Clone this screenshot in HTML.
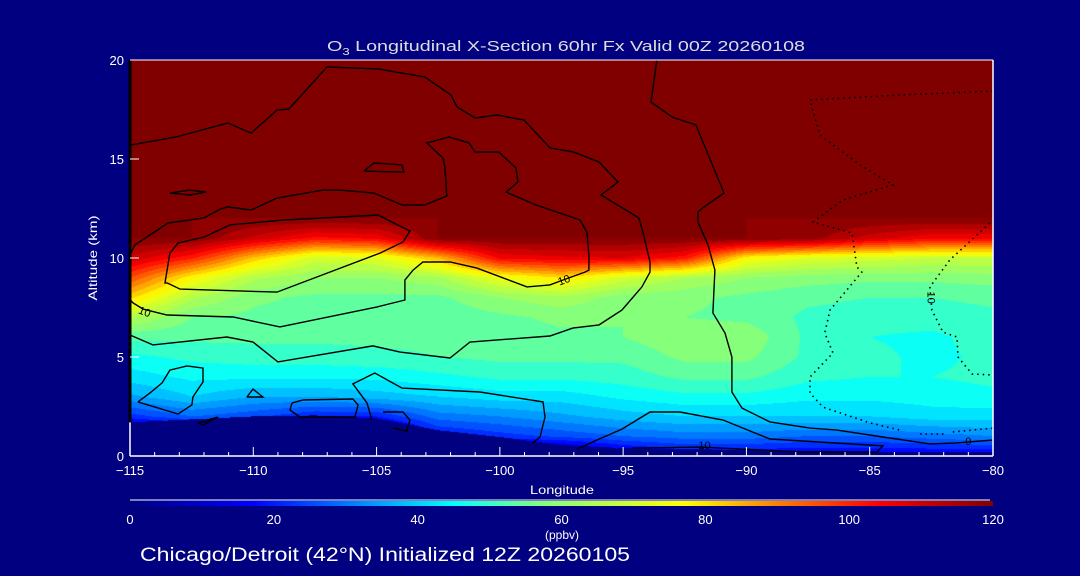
<!DOCTYPE html>
<html><head><meta charset="utf-8"><style>
html,body{margin:0;padding:0;background:#000080;}
#wrap{position:relative;width:1080px;height:576px;overflow:hidden;background:#000080;font-family:"Liberation Sans",sans-serif;color:#fff;}
#heat{position:absolute;left:130px;top:60px;}
#ov{position:absolute;left:0;top:0;}
</style></head><body>
<div id="wrap">
<canvas id="heat" width="863" height="396"></canvas>
<svg id="ov" width="1080" height="576">
<defs><linearGradient id="cbg" x1="0" x2="1" y1="0" y2="0"></linearGradient></defs>
<g id="contours"></g>
<g id="axes"></g>
<text x="327" y="51" textLength="478" lengthAdjust="spacingAndGlyphs" font-size="15" fill="#ddd">O<tspan font-size="10" dy="4">3</tspan><tspan dy="-4"> Longitudinal X-Section 60hr  Fx Valid 00Z 20260108</tspan></text>
<text x="97" y="258" text-anchor="middle" font-size="12" textLength="85" lengthAdjust="spacingAndGlyphs" fill="#fff" transform="rotate(-90 97 258)">Altitude (km)</text>
<text x="562" y="494" text-anchor="middle" font-size="12" textLength="64" lengthAdjust="spacingAndGlyphs" fill="#fff">Longitude</text>
<g id="cbar"></g>
<text x="562" y="539" text-anchor="middle" font-size="12" fill="#fff">(ppbv)</text>
<text x="140" y="561" font-size="19" textLength="490" lengthAdjust="spacingAndGlyphs" fill="#fff">Chicago/Detroit (42°N) Initialized 12Z 20260105</text>
</svg>
</div>
<script>
// ---- data ----
const lons = [-115,-112.5,-110,-107.5,-105,-102.5,-100,-97.5,-95,-92.5,-90,-87.5,-85,-82.5,-80];
const alts = [0,1,2,3,4,5,6,7,8,9,10,11,12,13,14,15,16,17,18,19,20];
const o3col0  = [0,0,22,35,42,47,53,65,81,96,111,120,120,120,120,120,120,120,120,120,120];
const o3col1  = [0,0,28,40,45,49,53,56,65,77,101,120,120,120,120,120,120,120,120,120,120];
const o3col2  = [0,0,25,36,45,50,53,55,57,65,83,111,120,120,120,120,120,120,120,120,120];
const o3col3  = [0,0,20,36,45,50,53,54,55,60,70,103,120,120,120,120,120,120,120,120,120];
const o3col4  = [0,0,20,38,45,51,53,53,55,60,72,105,120,120,120,120,120,120,120,120,120];
const o3col5  = [0,18,30,40,47,52,53,53,55,63,84,120,120,120,120,120,120,120,120,120,120];
const o3col6  = [0,22,32,42,49,53,54,55,60,74,105,120,120,120,120,120,120,120,120,120,120];
const o3col7  = [0,25,35,42,49,53,55,57,63,80,107,120,120,120,120,120,120,120,120,120,120];
const o3col8  = [10,28,38,45,50,53,56,56,58,70,108,120,120,120,120,120,120,120,120,120,120];
const o3col9  = [15,30,40,47,53,57,59,56,57,64,102,120,120,120,120,120,120,120,120,120,120];
const o3col10 = [15,30,40,47,53,57,59,55,55,60,77,120,120,120,120,120,120,120,120,120,120];
const o3col11 = [14,28,40,45,49,51,51,51,53,58,72,118,120,120,120,120,120,120,120,120,120];
const o3col12 = [14,28,40,45,48,49,48,50,52,57,70,110,120,120,120,120,120,120,120,120,120];
const o3col13 = [14,30,42,46,48,47,47,50,52,57,68,105,120,120,120,120,120,120,120,120,120];
const o3col14 = [14,32,42,47,49,49,50,51,53,58,68,105,120,120,120,120,120,120,120,120,120];
const o3 = [o3col0,o3col1,o3col2,o3col3,o3col4,o3col5,o3col6,o3col7,o3col8,o3col9,o3col10,o3col11,o3col12,o3col13,o3col14];
const terrain = [1.7,1.85,2.0,2.05,1.9,1.3,0.96,0.55,0.4,0.35,0.3,0.25,0.2,0.2,0.2];
const xTicks = [-115,-110,-105,-100,-95,-90,-85,-80];
const xTickLabels = ["\u2212115","\u2212110","\u2212105","\u2212100","\u221295","\u221290","\u221285","\u221280"];
const yTicks = [0,5,10,15,20];
const cbTicks = [0,20,40,60,80,100,120];
const cmapVals = [0,17,31,45,57,77,90,104,120];
const cmapCols = ["#000080","#0000ff","#0080ff","#00ffff","#80ff80","#ffff00","#ff8000","#ff0000","#800000"];
// contours (lon, alt)
const cU1 = [[-114.96,15.71],[-113.13,16.11],[-111.03,16.82],[-110.09,16.31],[-109.04,17.47],[-108.55,17.53],[-107.01,19.65],[-104.94,19.55],[-103.04,19.14],[-101.98,18.23],[-101.74,17.63],[-101.01,17.07],[-100.12,17.22],[-99.02,16.97],[-97.97,15.56],[-97.0,15.35],[-95.98,14.85],[-95.21,13.84],[-95.9,13.18],[-94.36,12.02],[-94.2,11.31],[-93.91,9.8],[-93.91,9.29],[-94.24,8.54],[-95.05,7.37],[-95.98,6.62],[-97.04,6.46],[-97.97,6.06],[-101.21,5.76],[-102.02,4.95],[-104.05,5.25],[-105.15,5.56],[-109.0,4.75],[-110.01,5.76],[-111.07,6.01],[-114.07,5.61],[-115,6.11]];
const cU2 = [[-115,10.15],[-114.8,10.66],[-113.46,11.77],[-112.0,12.02],[-111.35,12.47],[-111.03,12.58],[-110.09,12.42],[-109.04,13.03],[-107.17,13.43],[-106.48,13.43],[-105.11,13.28],[-103.97,12.68],[-103.04,12.68],[-102.15,13.13],[-102.23,14.6],[-102.31,15.05],[-102.96,15.81],[-102.06,16.11],[-101.25,15.81],[-101.01,15.35],[-100.04,15.35],[-99.35,14.55],[-99.27,13.84],[-99.75,13.33],[-98.54,12.68],[-96.75,11.92],[-96.47,11.31],[-96.39,10.15],[-96.39,9.39],[-96.55,9.29],[-97.44,8.89],[-97.97,8.64],[-98.9,8.54],[-100.93,9.49],[-102.02,9.8],[-103.12,9.8],[-103.52,9.39],[-103.85,8.89],[-103.85,7.88],[-104.98,7.53],[-108.92,6.52],[-110.82,7.02],[-113.5,7.12],[-114.47,7.42],[-114.88,7.73],[-115,7.9]];
const cLoopY = [[-113.5,8.74],[-112.97,8.43],[-109.04,8.28],[-104.86,10.25],[-103.93,10.81],[-103.65,11.36],[-104.94,12.17],[-107.17,12.02],[-108.8,11.92],[-110.94,11.67],[-112.0,11.06],[-113.05,10.76],[-113.38,10.25],[-113.58,8.74],[-113.5,8.74]];
const cLoopF = [[-105.51,14.39],[-105.11,14.8],[-103.97,14.7],[-103.89,14.34],[-105.51,14.39]];
const cLoopG = [[-113.38,13.28],[-112.57,13.43],[-111.92,13.33],[-112.57,13.18],[-113.38,13.28]];
const cV = [[-93.63,20],[-93.87,17.88],[-93.02,17.12],[-92.05,16.72],[-90.91,13.28],[-91.72,12.58],[-91.97,12.32],[-91.97,11.82],[-91.56,10.66],[-91.28,9.39],[-91.36,7.22],[-90.87,6.21],[-90.59,5.0],[-90.59,3.23],[-90.18,2.42],[-89.05,1.72],[-87.42,1.41],[-86.33,1.31],[-84.46,0.96],[-82.56,0.61],[-81.46,0.66],[-80,0.81]];
const cL5 = [[-96.87,0.35],[-96.06,0.81],[-95.05,1.36],[-93.91,2.22],[-92.7,2.22],[-90.95,1.82],[-89.05,0.86],[-84.46,0.51],[-84.71,0.2],[-87.71,0.2],[-91.89,0.45],[-94.64,0.4]];
const cLoopA = [[-114.68,2.73],[-114.19,3.18],[-113.7,3.69],[-113.38,4.34],[-112.69,4.55],[-112.04,4.44],[-112.04,3.74],[-112.45,2.98],[-112.49,2.58],[-113.05,2.12],[-114.68,2.73]];
const cLoopB = [[-110.26,2.98],[-110.01,3.38],[-109.61,2.98],[-110.26,2.98]];
const cLoopC = [[-108.43,2.68],[-107.98,2.83],[-105.96,2.88],[-105.75,2.58],[-105.88,1.97],[-108.11,1.97],[-108.51,2.32],[-108.43,2.68]];
const cLoopD = [[-105.19,1.82],[-105.39,2.68],[-105.96,3.64],[-105.07,4.19],[-103.97,3.43],[-100.81,3.23],[-98.25,2.73],[-98.17,1.97],[-98.37,0.96],[-98.66,0.66]];
const cLoopE = [[-104.74,2.22],[-103.93,2.22],[-103.65,1.82],[-103.77,1.26],[-104.33,1.41]];
const cLoopH = [[-112.24,1.67],[-111.43,1.97],[-112.04,1.57],[-112.24,1.67]];
const dD1 = [[-80,18.43],[-83.78,18.23],[-87.42,17.98],[-87.02,16.21],[-85.4,14.7],[-84.06,13.69],[-86.09,12.93],[-87.3,11.82],[-85.72,11.26],[-85.52,9.55],[-85.32,9.29],[-86.61,7.37],[-86.82,6.21],[-86.49,5.2],[-87.42,3.99],[-87.42,3.18],[-86.9,2.47],[-84.99,1.67],[-83.78,1.31]];
const dD1b = [[-82.96,1.11],[-81.87,1.11]];
const dD1c = [[-81.63,1.21],[-80,1.41]];
const dD2 = [[-80.13,11.77],[-81.75,9.9],[-82.56,8.54],[-82.48,7.37],[-82.03,6.26],[-81.46,6.01],[-81.42,5.0],[-80.85,4.14],[-80,4.09]];
const labelPos = [[-114.4,7.3,"10",20],[-97.4,8.9,"10",-20],[-91.7,0.55,"10",0],[-82.5,8.0,"10",90],[-81.0,0.75,"0",0]];

// ---- axes ----
const PX0=130, PX1=993, PY0=456, PY1=60;
const xS = lon => PX0 + (lon - (-115)) / 35 * (PX1 - PX0);
const yS = a => PY0 - a / 20 * (PY0 - PY1);
const NS = "http://www.w3.org/2000/svg";
function hex(c){return [parseInt(c.substr(1,2),16),parseInt(c.substr(3,2),16),parseInt(c.substr(5,2),16)];}
const cmapRGB = cmapCols.map(hex);
function cmap(v){
  v=Math.max(0,Math.min(120,v));
  for(let i=0;i<cmapVals.length-1;i++){
    if(v<=cmapVals[i+1]){const t=(v-cmapVals[i])/(cmapVals[i+1]-cmapVals[i]);const a=cmapRGB[i],b=cmapRGB[i+1];return [a[0]+(b[0]-a[0])*t,a[1]+(b[1]-a[1])*t,a[2]+(b[2]-a[2])*t];}
  }
  return cmapRGB[cmapRGB.length-1];
}
function interp1(arr, lon){
  let f=(lon-lons[0])/(lons[1]-lons[0]);let i=Math.max(0,Math.min(lons.length-2,Math.floor(f)));let t=f-i;
  return arr[i]*(1-t)+arr[i+1]*t;
}
function val(lon,a){
  let f=(lon-lons[0])/(lons[1]-lons[0]);let i=Math.max(0,Math.min(lons.length-2,Math.floor(f)));let t=Math.max(0,Math.min(1,f-i));
  let g=a/(alts[1]-alts[0]);let j=Math.max(0,Math.min(alts.length-2,Math.floor(g)));let u=Math.max(0,Math.min(1,g-j));
  const c0=o3[i],c1=o3[i+1];
  return (c0[j]*(1-u)+c0[j+1]*u)*(1-t)+(c1[j]*(1-u)+c1[j+1]*u)*t;
}
// heatmap
(function(){
  const cv=document.getElementById('heat');const ctx=cv.getContext('2d');
  const W=cv.width,H=cv.height;const img=ctx.createImageData(W,H);
  for(let py=0;py<H;py++){
    const a=(PY0-(py+PY1+0.5))/(PY0-PY1)*20;
    for(let px=0;px<W;px++){
      const lon=-115+(px+0.5)/(PX1-PX0)*35;
      let c;
      if(a<interp1(terrain,lon)) c=[0,0,128];
      else{let v=val(lon,a);v=Math.floor(v/4)*4+2;c=cmap(v);}
      const k=(py*W+px)*4;img.data[k]=c[0];img.data[k+1]=c[1];img.data[k+2]=c[2];img.data[k+3]=255;
    }
  }
  ctx.putImageData(img,0,0);
})();
// contours
const cg=document.getElementById('contours');
function poly(pts,dotted,name){
  const p=document.createElementNS(NS,'polyline');
  p.setAttribute('points',pts.map(q=>xS(q[0]).toFixed(1)+','+yS(q[1]).toFixed(1)).join(' '));
  p.setAttribute('fill','none');p.setAttribute('stroke','#000');
  p.setAttribute('stroke-width',dotted?'1.6':'1.4');
  if(dotted){p.setAttribute('stroke-dasharray','1.5 4');}
  
  
  cg.appendChild(p);
}
[[cU1,'contour-upper-outer'],[cU2,'contour-10'],[cLoopY,'contour-loop-yellow'],[cLoopF,'contour-loop-small-1'],[cLoopG,'contour-loop-small-2'],[cV,'contour-vertical'],[cL5,'contour-lower'],[cLoopA,'contour-loop-a'],[cLoopB,'contour-loop-b'],[cLoopC,'contour-loop-c'],[cLoopD,'contour-loop-d'],[cLoopE,'contour-loop-e'],[cLoopH,'contour-loop-h']].forEach(d=>poly(d[0],false,d[1]));
[[dD1,'contour-negative-1'],[dD1b,'contour-negative-1b'],[dD1c,'contour-negative-1c'],[dD2,'contour-negative-10']].forEach(d=>poly(d[0],true,d[1]));
labelPos.forEach(l=>{
  const t=document.createElementNS(NS,'text');
  const x=xS(l[0]),y=yS(l[1]);
  t.setAttribute('x',x);t.setAttribute('y',y+4);t.setAttribute('font-size','11');t.setAttribute('text-anchor','middle');t.setAttribute('fill','#000');
  t.setAttribute('transform','rotate('+l[3]+' '+x+' '+y+')');
  t.textContent=l[2];
  
  
  cg.appendChild(t);
});
// axes
const ag=document.getElementById('axes');
function line(x1,y1,x2,y2,col,w,name){
  const l=document.createElementNS(NS,'line');
  l.setAttribute('x1',x1);l.setAttribute('y1',y1);l.setAttribute('x2',x2);l.setAttribute('y2',y2);
  l.setAttribute('stroke',col);l.setAttribute('stroke-width',w);
  
  
  ag.appendChild(l);
}
function txt(x,y,s,anchor,size,name){
  const t=document.createElementNS(NS,'text');
  t.setAttribute('x',x);t.setAttribute('y',y);t.setAttribute('text-anchor',anchor);t.setAttribute('font-size',size);t.setAttribute('fill','#fff');
  t.textContent=s;
  
  
  ag.appendChild(t);
}
line(PX0,PY1,PX1,PY1,'#fff',1,'plot-frame-top');
line(PX1,PY1,PX1,PY0,'#fff',1.5,'plot-frame-right');
line(PX0,PY0,PX1,PY0,'#fff',1.5,'x-axis-line');
line(PX0,PY1,PX0,PY0,'#fff',1.5,'y-axis-line');
line(PX0,yS(20),PX0,yS(1.7),'#000',3,'contour-left-edge');
for(let lon=-115;lon<=-80;lon++){
  const x=xS(lon);const major=xTicks.indexOf(lon)>=0;
  line(x,PY0,x,PY0-(major?9:4),'#fff',1,'x-tick');
}
xTicks.forEach((v,i)=>txt(xS(v),475,xTickLabels[i],'middle',13,'x-tick-label'));
yTicks.forEach(v=>{line(PX0,yS(v),PX0+9,yS(v),'#fff',1,'y-tick');txt(PX0-6,yS(v)+5,String(v),'end',13,'y-tick-label');});
// colorbar
const grad=document.getElementById('cbg');
cmapVals.forEach((v,i)=>{const s=document.createElementNS(NS,'stop');s.setAttribute('offset',(v/120));s.setAttribute('stop-color',cmapCols[i]);grad.appendChild(s);});
const cb=document.getElementById('cbar');
const cbx=v=>PX0+v/120*(PX1-PX0);
const r=document.createElementNS(NS,'rect');
r.setAttribute('x',PX0);r.setAttribute('y',501);r.setAttribute('width',PX1-PX0);r.setAttribute('height',5);r.setAttribute('fill','url(#cbg)');


cb.appendChild(r);
const wl=document.createElementNS(NS,'line');
wl.setAttribute('x1',PX0);wl.setAttribute('x2',PX1-3);wl.setAttribute('y1',500);wl.setAttribute('y2',500);wl.setAttribute('stroke','#fff');wl.setAttribute('stroke-width',1);


cb.appendChild(wl);
cbTicks.forEach(v=>{
  const t=document.createElementNS(NS,'text');
  t.setAttribute('x',cbx(v));t.setAttribute('y',524);t.setAttribute('text-anchor','middle');t.setAttribute('font-size','13');t.setAttribute('fill','#fff');
  t.textContent=String(v);
  
  
  cb.appendChild(t);
});
</script>
</body></html>
